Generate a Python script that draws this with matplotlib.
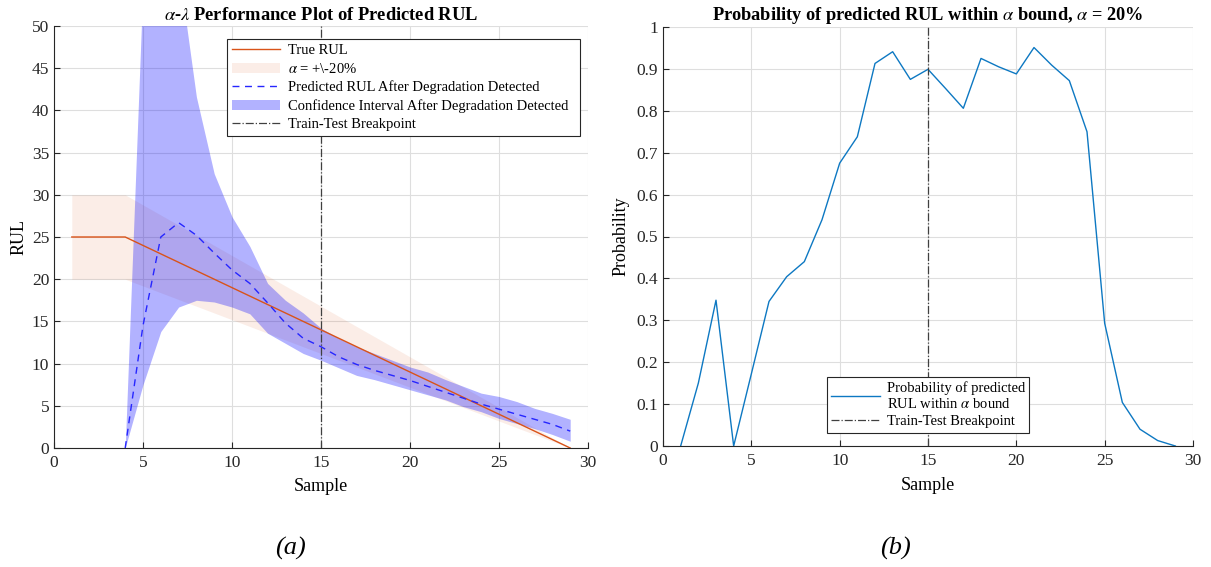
import matplotlib.pyplot as plt
import matplotlib.patches as mpatches
import numpy as np

plt.rcParams['font.family'] = ['Liberation Serif', 'DejaVu Serif']
plt.rcParams['mathtext.fontset'] = 'stix'

# 真实 RUL 与 alpha 边界
samples = list(range(1, 30))
true_rul = [25, 25, 25, 25, 24, 23, 22, 21, 20, 19, 18, 17, 16, 15, 14,
            13, 12, 11, 10, 9, 8, 7, 6, 5, 4, 3, 2, 1, 0]
alpha = 0.2

# 退化检测后的预测 RUL 与置信区间 (x = 4..29)
pred_x = list(range(4, 30))
pred_rul = [0, 14.5, 25.0, 26.7, 25.2, 23.1, 21.1, 19.5, 17.2, 14.8, 13.0, 12.0,
            10.8, 9.9, 9.2, 8.6, 8.0, 7.3, 6.6, 5.9, 5.2, 4.6, 4.0, 3.4, 2.8, 2.0]
ci_upper = [0, 55.0, 60.0, 56.9, 41.6, 32.5, 27.4, 23.9, 19.5, 17.5, 16.0, 14.2,
            13.0, 12.0, 11.2, 10.4, 9.6, 9.0, 8.1, 7.3, 6.5, 6.1, 5.5, 4.7, 4.1, 3.4]
ci_lower = [0, 7.5, 13.8, 16.7, 17.5, 17.3, 16.7, 15.9, 13.6, 12.4, 11.2, 10.4,
            9.5, 8.6, 8.1, 7.5, 6.9, 6.3, 5.7, 4.9, 4.3, 3.5, 2.9, 2.3, 1.6, 0.8]

# alpha 界内的概率
prob = [0, 0.15, 0.348, 0, 0.172, 0.345, 0.404, 0.44, 0.54, 0.675, 0.738, 0.913,
        0.941, 0.875, 0.899, 0.853, 0.806, 0.925, 0.905, 0.888, 0.951, 0.909,
        0.872, 0.75, 0.293, 0.104, 0.04, 0.013, 0]

breakpoint_x = 15

W, H = 1211, 567
fig = plt.figure(figsize=(W / 100, H / 100), dpi=100)
ax1 = fig.add_axes([54 / W, (H - 448) / H, (588 - 54) / W, (448 - 26) / H])
ax2 = fig.add_axes([663 / W, (H - 446) / H, (1193 - 663) / W, (446 - 27) / H])

orange = (0.85, 0.325, 0.098)
mblue = (0.05, 0.47, 0.76)


def style_axes(ax):
    for s in ['top', 'right']:
        ax.spines[s].set_visible(False)
    for s in ['left', 'bottom']:
        ax.spines[s].set_color('#262626')
        ax.spines[s].set_linewidth(0.8)
    ax.tick_params(direction='in', length=4, colors='#262626', labelsize=12.5)
    ax.tick_params(axis='x', pad=5)
    ax.grid(True, color='#dedede', linewidth=0.8)
    ax.set_axisbelow(True)


# 左图
tr = np.array(true_rul, dtype=float)
ax1.fill_between(samples, tr * (1 - alpha), tr * (1 + alpha), color=orange, alpha=0.1, linewidth=0)
ax1.fill_between(pred_x, ci_lower, ci_upper, color=(0, 0, 1), alpha=0.3, linewidth=0)
ax1.plot(samples, true_rul, color=orange, linewidth=1)
ax1.plot(pred_x, pred_rul, color=(0.15, 0.15, 1), linestyle=(0, (5, 4)), linewidth=1)
ax1.axvline(breakpoint_x, color='#404040', linestyle='-.', linewidth=0.9)
ax1.set_xlim(0, 30)
ax1.set_ylim(0, 50)
ax1.set_xticks(range(0, 31, 5))
ax1.set_yticks(range(0, 51, 5))
style_axes(ax1)
ax1.set_xlabel('Sample', fontsize=13, labelpad=5)
ax1.set_ylabel('RUL', fontsize=13, labelpad=3)
ax1.set_title(r'$\alpha$-$\lambda$ Performance Plot of Predicted RUL', fontsize=13.3,
              fontweight='bold', pad=4)

h1 = [plt.Line2D([], [], color=orange, linewidth=1),
      mpatches.Patch(color=orange, alpha=0.1, linewidth=0),
      plt.Line2D([], [], color=(0.15, 0.15, 1), linestyle=(0, (5, 4)), linewidth=1),
      mpatches.Patch(color=(0, 0, 1), alpha=0.3, linewidth=0),
      plt.Line2D([], [], color='#404040', linestyle='-.', linewidth=0.9)]
l1 = ['True RUL', r'$\alpha$ = +\-20%', 'Predicted RUL After Degradation Detected',
      'Confidence Interval After Degradation Detected  ', 'Train-Test Breakpoint']
leg1 = ax1.legend(h1, l1, loc='upper left', bbox_to_anchor=(227 / W, 1 - 39 / H),
                  bbox_transform=fig.transFigure, fontsize=10.5, fancybox=False,
                  framealpha=1, edgecolor='#262626', handlelength=3.3,
                  labelspacing=0.32, borderpad=0.35, handletextpad=0.5, borderaxespad=0)
leg1.get_frame().set_linewidth(0.8)

# 右图
ax2.plot(samples, prob, color=mblue, linewidth=1,
         label='Probability of predicted\nRUL within $\\alpha$ bound')
ax2.axvline(breakpoint_x, color='#404040', linestyle='-.', linewidth=0.9,
            label='Train-Test Breakpoint')
ax2.set_xlim(0, 30)
ax2.set_ylim(0, 1)
ax2.set_xticks(range(0, 31, 5))
yt = [i / 10 for i in range(11)]
ax2.set_yticks(yt)
ax2.set_yticklabels(['0'] + ['%.1f' % v for v in yt[1:-1]] + ['1'])
style_axes(ax2)
ax2.set_xlabel('Sample', fontsize=13, labelpad=6)
ax2.set_ylabel('Probability', fontsize=13, labelpad=5)
ax2.set_title(r'Probability of predicted RUL within $\alpha$ bound, $\alpha$ = 20%',
              fontsize=13.2, fontweight='bold', pad=5)
leg2 = ax2.legend(loc='upper left', bbox_to_anchor=(827 / W, 1 - 377 / H),
                  bbox_transform=fig.transFigure, fontsize=10.5, fancybox=False,
                  framealpha=1, edgecolor='#262626', handlelength=3.3,
                  labelspacing=0.25, borderpad=0.3, handletextpad=0.5, borderaxespad=0)
leg2.get_frame().set_linewidth(0.8)

fig.text(290 / W, 1 - 548 / H, '(a)', fontsize=19, style='italic', ha='center', va='center')
fig.text(895 / W, 1 - 548 / H, '(b)', fontsize=19, style='italic', ha='center', va='center')

fig.savefig('out.png', dpi=100)
